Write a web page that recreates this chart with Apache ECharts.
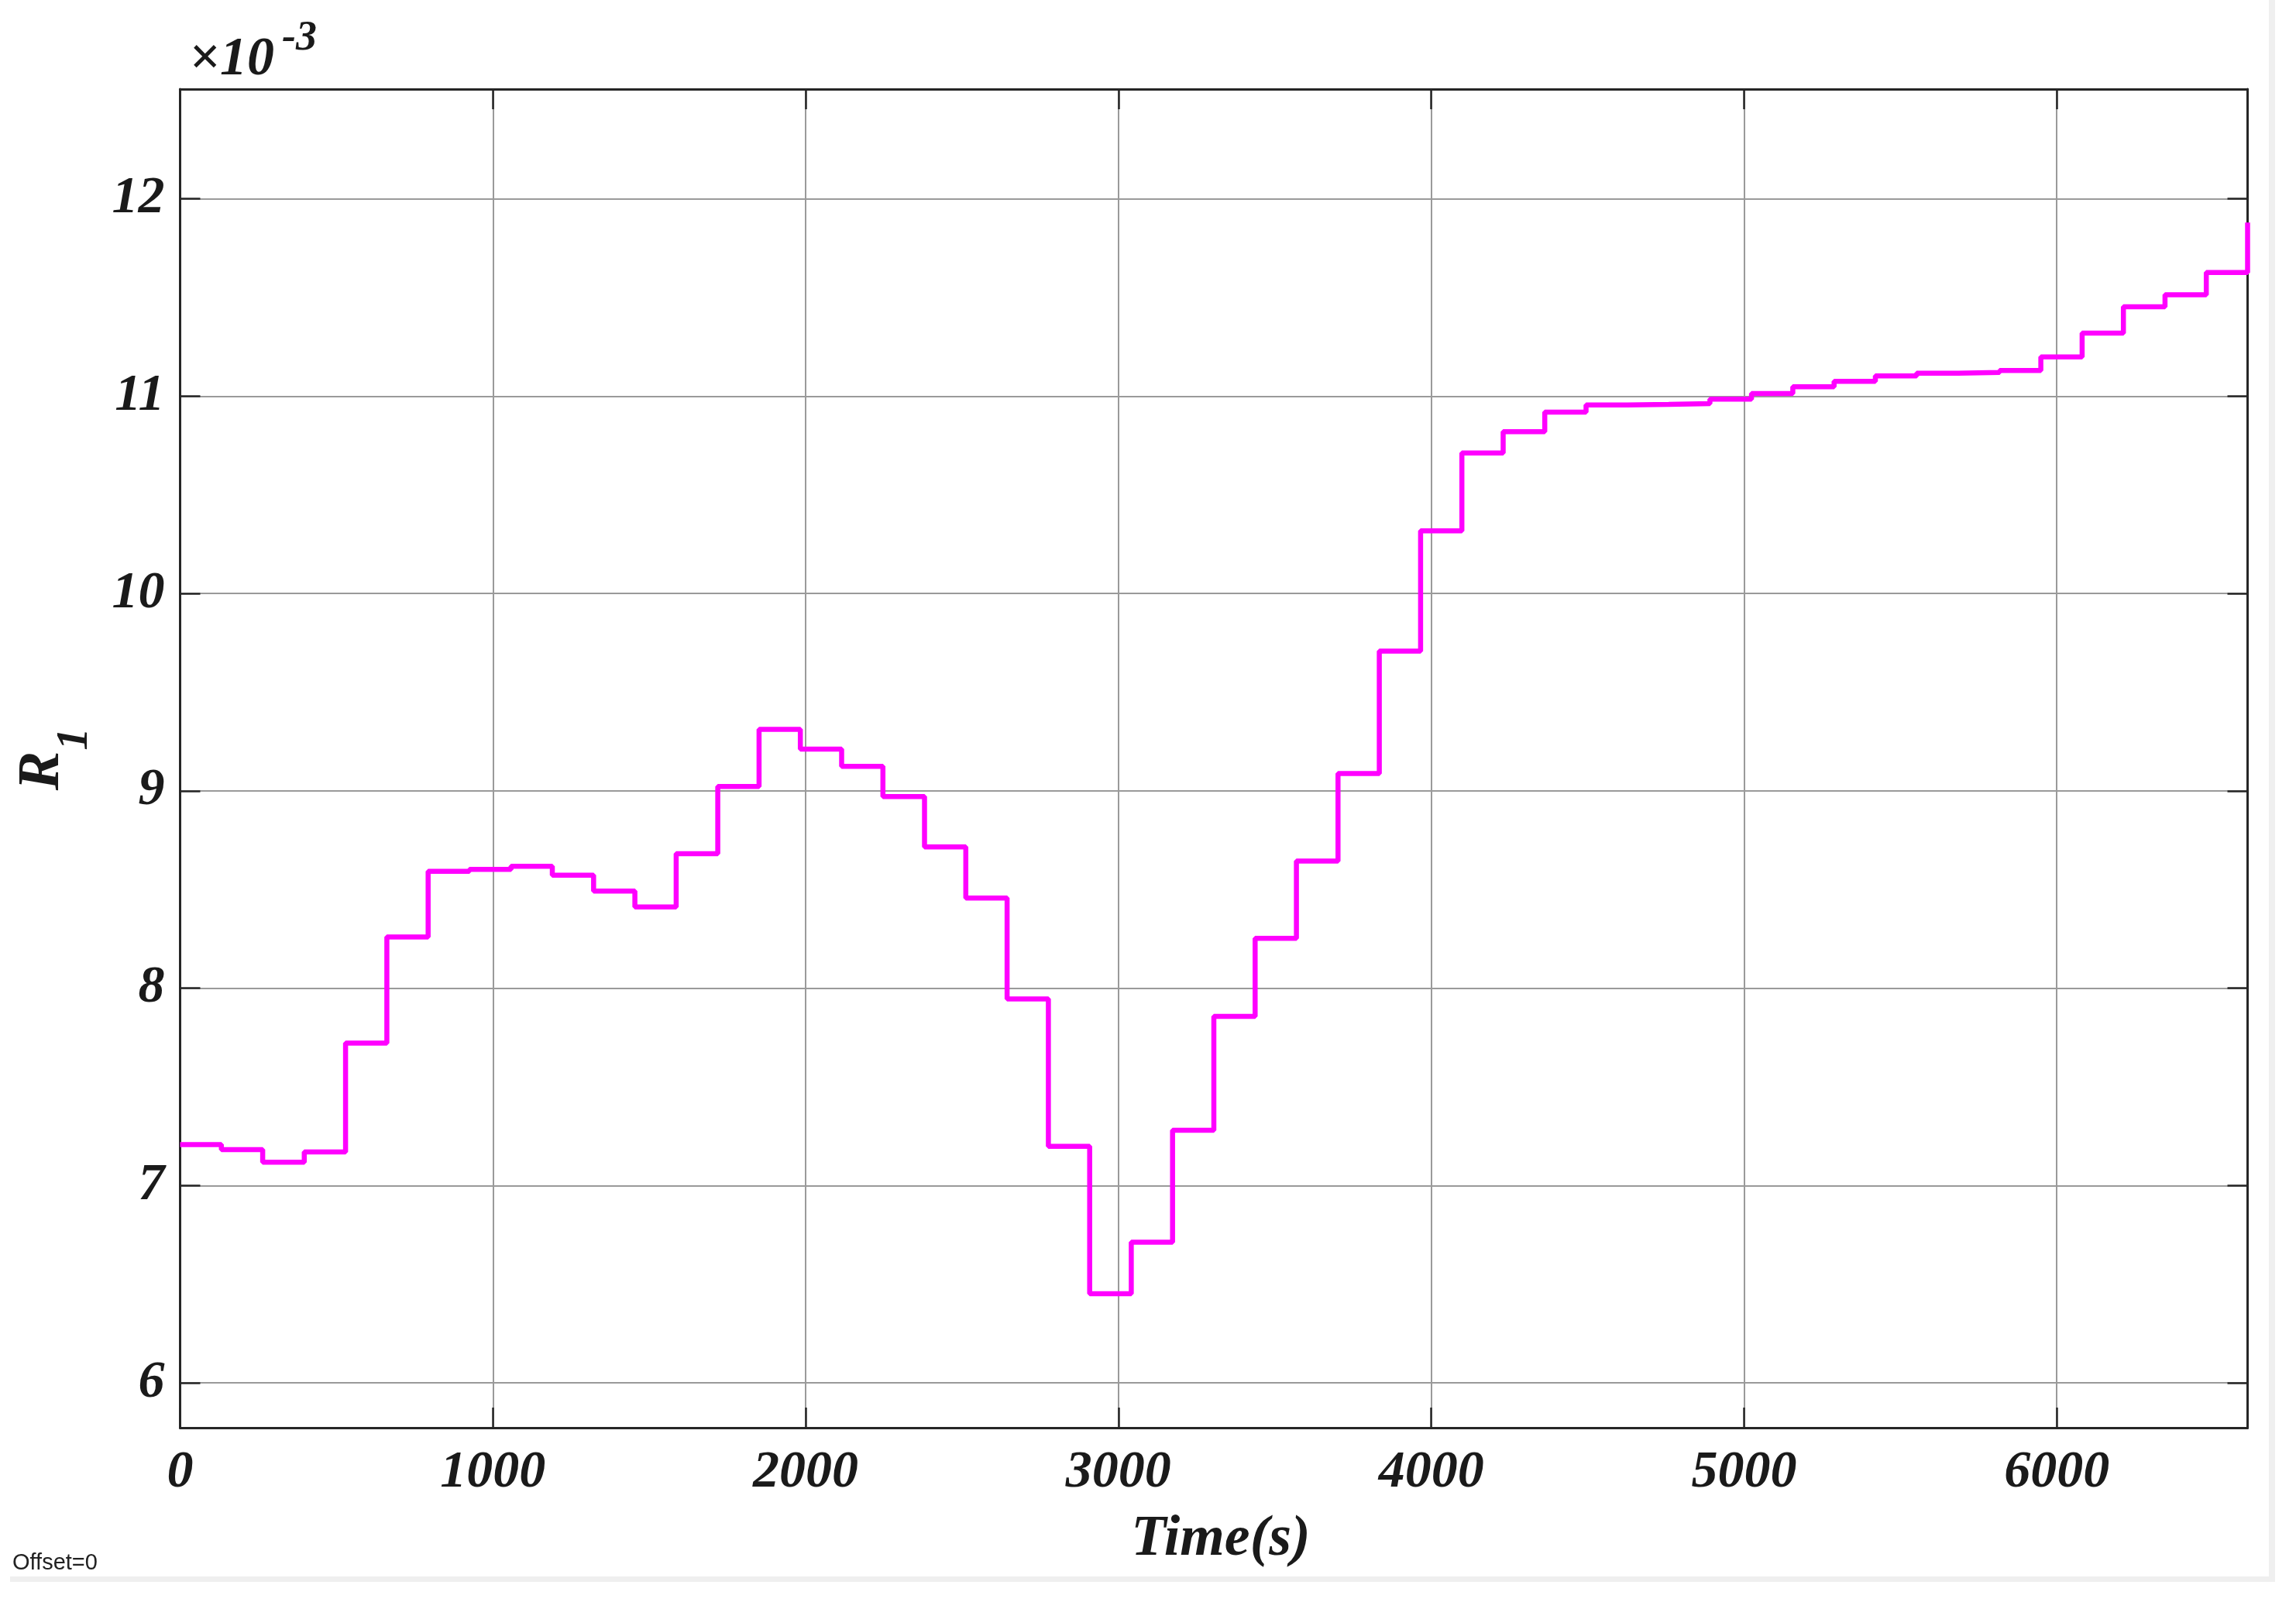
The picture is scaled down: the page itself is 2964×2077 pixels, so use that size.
<!DOCTYPE html>
<html>
<head>
<meta charset="utf-8">
<script src="https://cdn.jsdelivr.net/npm/echarts@6/dist/echarts.min.js"></script>
<style>
html,body{margin:0;padding:0;background:#fff;}
#chart{width:2964px;height:2077px;}
</style>
</head>
<body>
<div id="chart"></div>
<script>
// Step start times (s)
var times = [0, 132, 264, 397, 529, 661, 793, 925, 1058, 1190, 1322, 1454, 1586, 1719, 1851,
  1983, 2115, 2247, 2380, 2512, 2644, 2776, 2908, 3041, 3173, 3305, 3437, 3569, 3702, 3834,
  3966, 4098, 4230, 4363, 4495, 4627, 4759, 4891, 5024, 5156, 5288, 5420, 5552, 5685, 5817,
  5949, 6081, 6213, 6346, 6478, 6610];
// R1 values (x10^-3)
var r1 = [7.208, 7.182, 7.118, 7.170, 7.722, 8.260, 8.592, 8.602, 8.618, 8.573, 8.492, 8.412,
  8.682, 9.022, 9.312, 9.212, 9.124, 8.971, 8.716, 8.457, 7.946, 7.199, 6.452, 6.713, 7.280,
  7.857, 8.253, 8.644, 9.088, 9.708, 10.318, 10.712, 10.820, 10.919, 10.955, 10.958, 10.962,
  10.985, 11.013, 11.048, 11.075, 11.103, 11.116, 11.120, 11.130, 11.199, 11.320, 11.453,
  11.514, 11.627, 11.880];
var xTicks = [0, 1000, 2000, 3000, 4000, 5000, 6000];
var yTicks = [6, 7, 8, 9, 10, 11, 12];

var X_MIN = 0, X_MAX = 6610, Y_MIN = 5.773, Y_MAX = 12.556;

var seriesData = times.map(function (t, i) { return [t, r1[i]]; });

var serif = "'Liberation Serif','Times New Roman',serif";
var axisColor = '#262626';
var gridColor = '#9a9a9a';

function labelFont(extra) {
  var o = { fontFamily: serif, fontWeight: 'bold', fontStyle: 'italic', fontSize: 68, color: '#1a1a1a' };
  for (var k in extra) o[k] = extra[k];
  return o;
}
var axLine = { show: true, onZero: false, lineStyle: { color: axisColor, width: 3 } };
var axTick = { show: true, inside: true, length: 26, lineStyle: { color: axisColor, width: 2.5 } };

var chart = echarts.init(document.getElementById('chart'), null, { renderer: 'canvas' });
var option = {
  backgroundColor: '#ffffff',
  animation: false,
  grid: { left: 232.5, right: 62.5, top: 115, bottom: 234, containLabel: false },
  xAxis: [{
    type: 'value', position: 'bottom', min: X_MIN, max: X_MAX, interval: 1000,
    axisLine: axLine, axisTick: axTick,
    splitLine: { show: true, lineStyle: { color: gridColor, width: 2 } },
    axisLabel: labelFont({
      margin: 24, showMaxLabel: false,
      formatter: function (v) { return xTicks.indexOf(v) >= 0 ? String(v) : ''; }
    }),
    name: 'Time(s)', nameLocation: 'middle', nameGap: 108,
    nameTextStyle: { fontFamily: serif, fontWeight: 'bold', fontStyle: 'italic', fontSize: 74, color: '#1a1a1a', padding: [0, 0, 0, 18] }
  }, {
    type: 'value', position: 'top', min: X_MIN, max: X_MAX, interval: 1000,
    axisLine: axLine, axisTick: axTick,
    splitLine: { show: false }, axisLabel: { show: false }
  }],
  yAxis: [{
    type: 'value', position: 'left', min: Y_MIN, max: Y_MAX, splitNumber: 7,
    axisLine: axLine, axisTick: axTick,
    splitLine: { show: true, lineStyle: { color: gridColor, width: 2 } },
    axisLabel: labelFont({
      margin: 20, showMinLabel: false, showMaxLabel: false,
      formatter: function (v) { return yTicks.indexOf(v) >= 0 ? String(v) : ''; }
    })
  }, {
    type: 'value', position: 'right', min: Y_MIN, max: Y_MAX, splitNumber: 7,
    axisLine: axLine, axisTick: axTick,
    splitLine: { show: false }, axisLabel: { show: false }
  }],
  series: [{
    type: 'line', xAxisIndex: 0, yAxisIndex: 0, step: 'end', data: seriesData,
    showSymbol: false, symbol: 'none',
    lineStyle: { color: '#ff00ff', width: 6.5 }, clip: true, z: 5
  }],
  graphic: [
    { type: 'text', x: 55, y: 995, rotation: Math.PI / 2,
      style: { text: 'R', font: "italic bold 76px " + serif, fill: '#1a1a1a', textAlign: 'center', textVerticalAlign: 'middle' } },
    { type: 'text', x: 97, y: 954, rotation: Math.PI / 2,
      style: { text: '1', font: "italic bold 58px " + serif, fill: '#1a1a1a', textAlign: 'center', textVerticalAlign: 'middle' } },
    { type: 'text', x: 244, y: 78,
      style: { text: '\u00d710', font: "italic bold 70px " + serif, fill: '#1a1a1a', textAlign: 'left', textVerticalAlign: 'middle' } },
    { type: 'text', x: 364, y: 50,
      style: { text: '-3', font: "italic bold 54px " + serif, fill: '#1a1a1a', textAlign: 'left', textVerticalAlign: 'middle' } },
    { type: 'text', x: 16, y: 2018,
      style: { text: 'Offset=0', font: "29px 'Liberation Sans', Arial, sans-serif", fill: '#222', textAlign: 'left', textVerticalAlign: 'middle' } },
    { type: 'line', shape: { x1: 13, y1: 2038.5, x2: 2937, y2: 2038.5 }, style: { stroke: '#efefef', lineWidth: 7 } },
    { type: 'line', shape: { x1: 2933, y1: 0, x2: 2933, y2: 2042 }, style: { stroke: '#efefef', lineWidth: 8 } }
  ]
};
chart.setOption(option);
</script>
</body>
</html>
